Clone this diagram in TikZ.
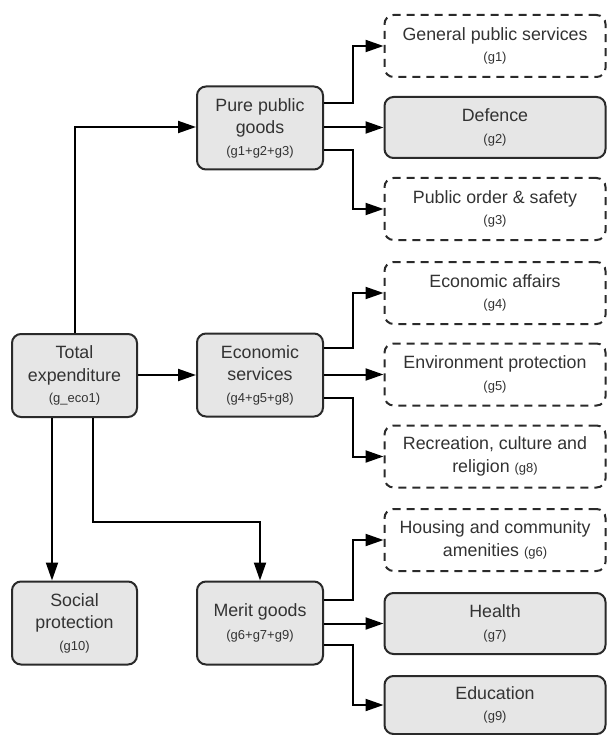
\documentclass[tikz,border=0pt]{standalone}
\usepackage{fontspec}
\setmainfont{Liberation Sans}
\usetikzlibrary{arrows.meta}
\definecolor{boxfill}{HTML}{E6E6E6}
\definecolor{edge}{HTML}{2A2A2A}
\definecolor{txt}{HTML}{333333}
\newcommand{\mainf}{\fontsize{17.8}{22.5}\selectfont}
\newcommand{\subf}{\fontsize{13}{15}\selectfont}
\tikzset{
  basebox/.style={rounded corners=9pt, line width=2pt, draw=edge, text=txt,
    align=center, inner sep=0pt, font=\mainf},
  leftbox/.style={basebox, fill=boxfill, minimum width=125pt, minimum height=83pt},
  solidbox/.style={basebox, fill=boxfill, minimum width=221pt, minimum height=61pt},
  dashbox/.style={basebox, fill=white, dash pattern=on 8pt off 6pt, minimum width=221pt, minimum height=62pt},
  conn/.style={line width=2pt, draw=black, -{Triangle[length=18pt,width=12pt]}}
}
\begin{document}
\begin{tikzpicture}[x=1pt,y=-1pt]
\useasboundingbox (0,0) rectangle (607,735);
% left column
\node[leftbox] (tot) at (74.5,375.5) {Total\\expenditure\\[-1pt]{\subf (g\_eco1)}};
\node[leftbox] (soc) at (74.5,623) {Social\\protection\\[-1pt]{\subf (g10)}};
% middle column
\node[leftbox, minimum width=126pt] (pure) at (260,128) {Pure public\\goods\\[-1pt]{\subf (g1+g2+g3)}};
\node[leftbox, minimum width=126pt] (eco) at (260,375) {Economic\\services\\[-1pt]{\subf (g4+g5+g8)}};
\node[leftbox, minimum width=126pt] (mer) at (260,623) {Merit goods\\[1pt]{\subf (g6+g7+g9)}};
% right column
\node[dashbox] (g1) at (495,46) {General public services\\[-1pt]{\subf (g1)}};
\node[solidbox] (g2) at (495,127.5) {Defence\\[-1pt]{\subf (g2)}};
\node[dashbox] (g3) at (495,209) {Public order \& safety\\[-1pt]{\subf (g3)}};
\node[dashbox] (g4) at (495,293) {Economic affairs\\[-1pt]{\subf (g4)}};
\node[dashbox] (g5) at (495,374.5) {Environment protection\\[-1pt]{\subf (g5)}};
\node[dashbox] (g8) at (495,456.5) {Recreation, culture and\\religion {\subf (g8)}};
\node[dashbox] (g6) at (495,540) {Housing and community\\amenities {\subf (g6)}};
\node[solidbox] (g7) at (495,623.5) {Health\\[-1pt]{\subf (g7)}};
\node[solidbox, minimum height=58pt] (g9) at (495,705) {Education\\[-1pt]{\subf (g9)}};
% helper coordinates
\coordinate (tTop) at (75,127);
\coordinate (tB2) at (93,522);
\coordinate (tB3) at (260,522);
% connectors from total
\draw[conn] (tot.north -| tTop) -- (tTop) -- (pure.west |- tTop);
\draw[conn] (tot.east |- eco.west) -- (eco.west);
\draw[conn] (tot.south -| 52,0) -- (soc.north -| 52,0);
\draw[conn] (tot.south -| tB2) -- (tB2) -- (tB3) -- (mer.north);
% pure public goods
\draw[conn] (pure.east |- 0,103) -- (353,103) -- (353,46) -- (g1.west);
\draw[conn] (pure.east |- g2.west) -- (g2.west);
\draw[conn] (pure.east |- 0,150) -- (353,150) -- (353,209) -- (g3.west);
% economic services
\draw[conn] (eco.east |- 0,348) -- (353,348) -- (353,293) -- (g4.west);
\draw[conn] (eco.east |- g5.west) -- (g5.west);
\draw[conn] (eco.east |- 0,398) -- (353,398) -- (353,456.5) -- (g8.west);
% merit goods
\draw[conn] (mer.east |- 0,600) -- (353,600) -- (353,540) -- (g6.west);
\draw[conn] (mer.east |- g7.west) -- (g7.west);
\draw[conn] (mer.east |- 0,645) -- (353,645) -- (353,705) -- (g9.west);
\end{tikzpicture}
\end{document}
